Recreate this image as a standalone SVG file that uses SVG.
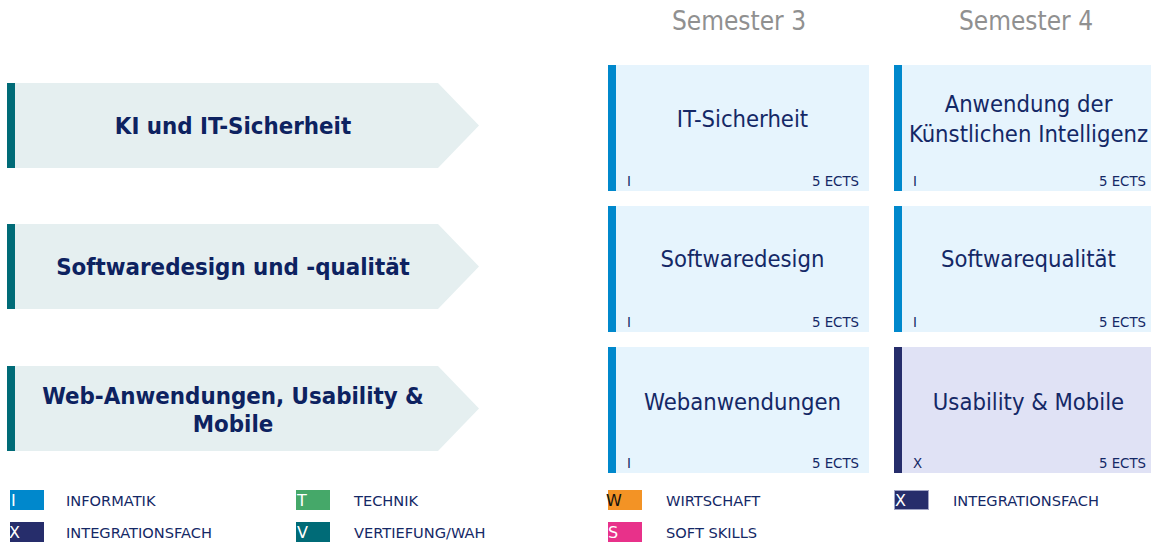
<svg xmlns="http://www.w3.org/2000/svg" width="1151" height="545" viewBox="0 0 1151 545">
<style>
.hdr{font-family:"DejaVu Sans Condensed","DejaVu Sans",sans-serif;font-stretch:condensed;font-size:26px;fill:#909090;text-anchor:middle}
.arrow{fill:#e5eff0}
.abar{fill:#006b77}
.atxt{font-family:"DejaVu Sans Condensed","DejaVu Sans",sans-serif;font-stretch:condensed;font-weight:bold;font-size:23.8px;fill:#0d2260;text-anchor:middle}
.card{fill:#e6f4fd}
.cbar{fill:#0088cc}
.cardx{fill:#e0e2f5}
.cbarx{fill:#262d6b}
.ctit{font-family:"DejaVu Sans Condensed","DejaVu Sans",sans-serif;font-stretch:condensed;font-size:23.6px;fill:#142866;text-anchor:middle}
.csm{font-family:"DejaVu Sans Condensed","DejaVu Sans",sans-serif;font-stretch:condensed;font-size:14.8px;fill:#142866}
.cr{text-anchor:end}
.lg{font-family:"DejaVu Sans",sans-serif;font-size:14.6px;fill:#142866}
.sw{font-family:"DejaVu Sans",sans-serif;font-size:16px;fill:#ffffff}
</style>

<g id="headers">
<text class="hdr" x="739" y="30">Semester 3</text>
<text class="hdr" x="1026" y="30">Semester 4</text>
</g>

<g id="track1">
<polygon class="arrow" points="15,83 438,83 479,125.5 438,168 15,168"/>
<rect class="abar" x="7" y="83" width="8" height="85"/>
<text class="atxt" x="233" y="134">KI und IT-Sicherheit</text>
</g>
<g id="track2">
<polygon class="arrow" points="15,224 438,224 479,266.5 438,309 15,309"/>
<rect class="abar" x="7" y="224" width="8" height="85"/>
<text class="atxt" x="233" y="275">Softwaredesign und -qualität</text>
</g>
<g id="track3">
<polygon class="arrow" points="15,366 438,366 479,408.5 438,451 15,451"/>
<rect class="abar" x="7" y="366" width="8" height="85"/>
<text class="atxt" x="233" y="404">Web-Anwendungen, Usability &amp;</text>
<text class="atxt" x="233" y="432">Mobile</text>
</g>

<g id="card-it-sicherheit">
<rect class="card" x="608" y="65" width="261" height="126"/>
<rect class="cbar" x="608" y="65" width="8" height="126"/>
<text class="ctit" x="742.5" y="127">IT-Sicherheit</text>
<text class="csm" x="627" y="186">I</text>
<text class="csm cr" x="859" y="186">5 ECTS</text>
</g>
<g id="card-ki">
<rect class="card" x="894" y="65" width="261" height="126"/>
<rect class="cbar" x="894" y="65" width="8" height="126"/>
<text class="ctit" x="1028.5" y="112">Anwendung der</text>
<text class="ctit" x="1028.5" y="142">Künstlichen Intelligenz</text>
<text class="csm" x="913" y="186">I</text>
<text class="csm cr" x="1146" y="186">5 ECTS</text>
</g>
<g id="card-softwaredesign">
<rect class="card" x="608" y="206" width="261" height="126"/>
<rect class="cbar" x="608" y="206" width="8" height="126"/>
<text class="ctit" x="742.5" y="267">Softwaredesign</text>
<text class="csm" x="627" y="327">I</text>
<text class="csm cr" x="859" y="327">5 ECTS</text>
</g>
<g id="card-softwarequalitaet">
<rect class="card" x="894" y="206" width="261" height="126"/>
<rect class="cbar" x="894" y="206" width="8" height="126"/>
<text class="ctit" x="1028.5" y="267">Softwarequalität</text>
<text class="csm" x="913" y="327">I</text>
<text class="csm cr" x="1146" y="327">5 ECTS</text>
</g>
<g id="card-webanwendungen">
<rect class="card" x="608" y="347" width="261" height="126"/>
<rect class="cbar" x="608" y="347" width="8" height="126"/>
<text class="ctit" x="742.5" y="410">Webanwendungen</text>
<text class="csm" x="627" y="468">I</text>
<text class="csm cr" x="859" y="468">5 ECTS</text>
</g>
<g id="card-usability">
<rect class="cardx" x="894" y="347" width="261" height="126"/>
<rect class="cbarx" x="894" y="347" width="8" height="126"/>
<text class="ctit" x="1028.5" y="410">Usability &amp; Mobile</text>
<text class="csm" x="913" y="468">X</text>
<text class="csm cr" x="1146" y="468">5 ECTS</text>
</g>

<g id="connectors"></g>

<g id="legend">
<rect x="10" y="490" width="34" height="20" fill="#0088cc"/>
<text class="sw" x="11" y="506">I</text>
<text class="lg" x="66" y="506">INFORMATIK</text>
<rect x="10" y="522" width="34" height="20" fill="#262d6b"/>
<text class="sw" x="9" y="538">X</text>
<text class="lg" x="66" y="538">INTEGRATIONSFACH</text>
<rect x="296" y="490" width="34" height="20" fill="#45a869"/>
<text class="sw" x="297" y="506">T</text>
<text class="lg" x="354" y="506">TECHNIK</text>
<rect x="296" y="522" width="34" height="20" fill="#006b77"/>
<text class="sw" x="297" y="538">V</text>
<text class="lg" x="354" y="538">VERTIEFUNG/WAH</text>
<rect x="608" y="490" width="34" height="20" fill="#f39325"/>
<text class="sw" x="606" y="506" style="fill:#111111">W</text>
<text class="lg" x="666" y="506">WIRTSCHAFT</text>
<rect x="608" y="522" width="34" height="20" fill="#e8318a"/>
<text class="sw" x="608" y="538">S</text>
<text class="lg" x="666" y="538">SOFT SKILLS</text>
<rect x="894.5" y="490.5" width="34" height="19" fill="#262d6b" stroke="#a0a4c4" stroke-width="1"/>
<text class="sw" x="895" y="506">X</text>
<text class="lg" x="953" y="506">INTEGRATIONSFACH</text>
</g>
</svg>
